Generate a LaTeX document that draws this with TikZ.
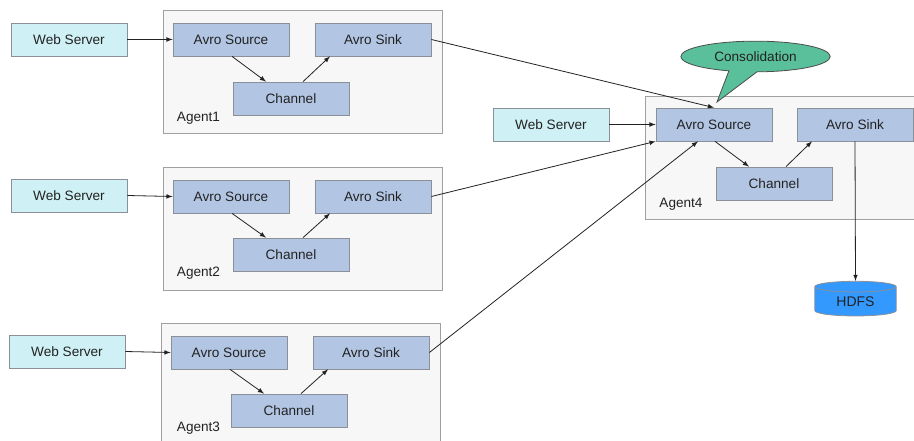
\documentclass[tikz,border=0pt]{standalone}
\usepackage{fontspec}
\setmainfont{Liberation Sans}
\usetikzlibrary{arrows, calc, shapes.geometric, shapes.callouts}
\definecolor{panelfill}{HTML}{F7F7F7}
\definecolor{panelline}{HTML}{A0A0A0}
\definecolor{blockfill}{HTML}{B2C6E4}
\definecolor{blockline}{HTML}{8A8F98}
\definecolor{webfill}{HTML}{CFF0F4}
\definecolor{calloutfill}{HTML}{5AC09C}
\definecolor{diskfill}{HTML}{3399FF}
\definecolor{inkline}{HTML}{222222}

\begin{document}
\begin{tikzpicture}[x=0.75pt, y=-0.75pt, >=latex,
    every node/.style={font=\fontsize{10.2}{12}\selectfont, text=inkline, inner sep=0pt},
    agent/.style={draw=panelline, fill=panelfill, line width=0.7pt, minimum width=209.5pt, minimum height=92.5pt},
    block/.style={draw=blockline, fill=blockfill, line width=0.6pt, minimum width=87pt, minimum height=24.7pt},
    webserver/.style={block, fill=webfill},
    flow/.style={->, draw=inkline, line width=0.6pt}]
    \useasboundingbox (0,0) rectangle (914,441);

    % Agent panels
    \node[agent] (a1) at (303,72) {};
    \node[agent] (a2) at (303,229) {};
    \node[agent] (a3) at (301,385) {};
    \node[agent] (a4) at (785,158) {};

    % Agent 1
    \node[webserver] (web1) at (69,39.5) {Web Server};
    \node[block] (src1) at (231,39.5) {Avro Source};
    \node[block] (sink1) at (373,39.5) {Avro Sink};
    \node[block] (ch1) at (291,98.5) {Channel};
    \node (lab1) at (198.5,118) {Agent1};

    % Agent 2
    \node[webserver] (web2) at (69,195.5) {Web Server};
    \node[block] (src2) at (231,196.5) {Avro Source};
    \node[block] (sink2) at (373,196.5) {Avro Sink};
    \node[block] (ch2) at (291,254.5) {Channel};
    \node (lab2) at (198.5,273) {Agent2};

    % Agent 3
    \node[webserver] (web3) at (67,351.5) {Web Server};
    \node[block] (src3) at (229,352.5) {Avro Source};
    \node[block] (sink3) at (371,352.5) {Avro Sink};
    \node[block] (ch3) at (289,410.5) {Channel};
    \node (lab3) at (198.5,428) {Agent3};

    % Agent 4
    \node[webserver] (web4) at (551,124.5) {Web Server};
    \node[block] (src4) at (714,124.5) {Avro Source};
    \node[block] (sink4) at (855,124.5) {Avro Sink};
    \node[block] (ch4) at (774,183.5) {Channel};
    \node (lab4) at (681,204.5) {Agent4};

    % Store
    \node[cylinder, shape border rotate=90, aspect=0.28, draw=blockline, fill=diskfill, line width=0.6pt,
        font=\fontsize{10.5}{12}\selectfont, minimum width=61pt, minimum height=26pt] (hdfs) at (855.5,301.5) {HDFS};

    % Consolidation
    \node[ellipse callout, draw=black!70, fill=calloutfill, line width=0.6pt, minimum width=112pt, minimum height=23pt,
        callout absolute pointer={(717,102)}, callout pointer arc=22] (cons) at (755.5,56.5) {Consolidation\hspace{4pt}};

    % Inside the agents
    \draw[flow] ($(src1.south)+(1,0)$) -- ($(ch1.north)+(-25,0)$);
    \draw[flow] ($(ch1.north)+(12,0)$) -- ($(sink1.south)+(-43,0)$);
    \draw[flow] ($(src2.south)+(1,0)$) -- ($(ch2.north)+(-25,0)$);
    \draw[flow] ($(ch2.north)+(12,0)$) -- ($(sink2.south)+(-43,0)$);
    \draw[flow] ($(src3.south)+(1,0)$) -- ($(ch3.north)+(-25,0)$);
    \draw[flow] ($(ch3.north)+(12,0)$) -- ($(sink3.south)+(-43,0)$);
    \draw[flow] ($(src4.south)+(1,0)$) -- ($(ch4.north)+(-25,0)$);
    \draw[flow] ($(ch4.north)+(12,0)$) -- ($(sink4.south)+(-43,0)$);

    % Web servers
    \draw[flow] (web1.east) -- (src1.west);
    \draw[flow] (web2.east) -- (src2.west);
    \draw[flow] (web3.east) -- (src3.west);
    \draw[flow] (web4.east) -- (src4.west);

    % Into agent 4
    \draw[flow] (sink1.east) -- (src4.north);
    \draw[flow] (sink2.east) -- (src4.south west);
    \draw[flow] (sink3.east) -- ($(src4.south)+(-16,0)$);
    \draw[flow] (sink4.south) -- (hdfs.top);
\end{tikzpicture}
\end{document}
